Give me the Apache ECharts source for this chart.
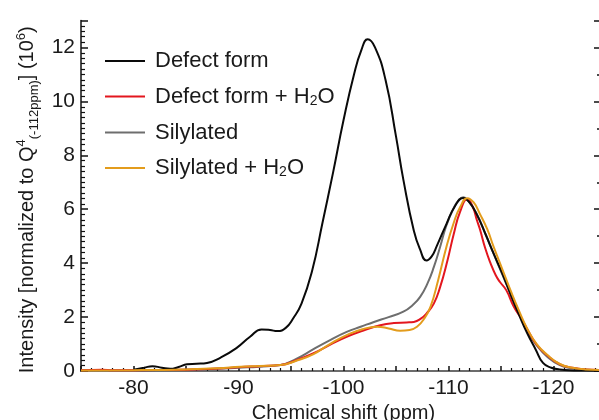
<!DOCTYPE html>
<html>
<head>
<meta charset="utf-8">
<script src="https://cdn.jsdelivr.net/npm/echarts@6/dist/echarts.min.js"></script>
<style>html,body{margin:0;padding:0;background:#fff;}#c{width:599px;height:420px;}</style>
</head>
<body>
<div id="c"></div>
<script>
// ---- data (ppm, intensity x10^6) ----
const defectX = [-80,-81,-81.8,-82.7,-83.5,-84.3,-85.1,-86,-87,-88.3,-89.8,-91.1,-92.2,-93,-93.7,-94.5,-95.2,-96,-97,-98,-99,-100,-101,-101.7,-102.3,-103,-104,-105,-105.7,-106.7,-107.3,-107.9,-108.4,-108.9,-109.8,-110.6,-111.4,-112,-112.7,-113.5,-114.3,-115.2,-115.9,-116.7,-117.5,-118.3,-119,-119.8,-120.6,-121.5,-123,-126];
const defectY = [0.05,0.12,0.18,0.12,0.08,0.15,0.25,0.27,0.3,0.5,0.85,1.27,1.54,1.52,1.48,1.6,1.95,2.5,3.7,5.5,7.35,9.3,11.0,11.9,12.3,12.0,10.8,8.7,7.1,5.2,4.5,4.1,4.25,4.65,5.45,6.1,6.42,6.25,5.8,5.1,4.35,3.55,2.85,2.1,1.4,0.8,0.3,0.12,0.06,0.03,0.02,0.0];

const defectH2OX = [-75,-77,-78,-80,-85,-88,-90,-92,-94,-95.5,-97.1,-98.7,-100.3,-101.9,-103.5,-104.8,-106,-106.7,-107.4,-107.9,-108.6,-109.2,-109.9,-110.5,-111.1,-111.8,-112.3,-112.7,-113,-113.5,-114,-114.5,-114.9,-115.5,-116.2,-117,-117.5,-118.4,-119.4,-120.6,-121.8,-123,-126];
const defectH2OY = [0.03,0.05,0.03,0.03,0.05,0.09,0.14,0.18,0.22,0.4,0.65,0.97,1.27,1.5,1.7,1.78,1.8,1.82,1.95,2.13,2.5,3.11,4.1,5.08,5.9,6.38,6.1,5.6,5.25,4.55,4.0,3.55,3.3,3.0,2.4,1.9,1.55,0.98,0.58,0.25,0.12,0.06,0.03];

const silylX = [-75,-80,-85,-88,-90,-92,-94,-95.5,-97.1,-98.5,-100.3,-101.7,-102.9,-104.3,-105.7,-106.6,-107.3,-108,-108.6,-109.2,-109.8,-110.5,-111,-111.4,-111.9,-112.7,-113.5,-114.3,-115.1,-115.9,-116.7,-117.5,-118.4,-119.4,-120.6,-121.8,-123,-126];
const silylY = [0.03,0.03,0.05,0.08,0.12,0.16,0.22,0.45,0.8,1.1,1.45,1.65,1.82,2.0,2.2,2.45,2.75,3.25,3.85,4.6,5.4,6.05,6.35,6.44,6.3,5.82,5.1,4.35,3.6,2.87,2.15,1.5,0.95,0.53,0.22,0.1,0.05,0.02];

const silylH2OX = [-75,-80,-85,-88,-90.2,-92,-94,-95.5,-97.1,-98.7,-100.3,-101.8,-103.2,-104.3,-105.4,-106.3,-107,-107.7,-108.3,-109,-109.8,-110.5,-111.1,-111.8,-112.4,-113,-113.7,-114.3,-115.1,-115.9,-116.7,-117.5,-118.4,-119.4,-120.6,-121.8,-123,-126];
const silylH2OY = [0.02,0.03,0.06,0.1,0.16,0.19,0.22,0.38,0.62,1.0,1.33,1.55,1.64,1.58,1.49,1.52,1.64,1.95,2.4,3.35,4.6,5.5,6.07,6.41,6.25,5.82,5.25,4.6,3.8,3.0,2.25,1.57,1.0,0.6,0.26,0.12,0.06,0.03];

const seriesNames = ['Defect form','Defect form + H2O','Silylated','Silylated + H2O'];
const xTickValues = [-80,-90,-100,-110,-120];
const yTickValues = [0,2,4,6,8,10,12];

function pairs(xs, ys){ return xs.map((x,i)=>[x, ys[i]]); }

const chart = echarts.init(document.getElementById('c'), null, {renderer:'canvas'});
const FONT = '"Liberation Sans", Arial, sans-serif';
const TXT = '#1a1a1a';
const lineSeries = (name, xs, ys, color, z) => ({
  name, type:'line', data: pairs(xs, ys), showSymbol:false, symbol:'none',
  smooth:0.5, z,
  lineStyle:{color, width:2}, itemStyle:{color}
});

chart.setOption({
  animation:false,
  backgroundColor:'#fff',
  textStyle:{fontFamily:FONT},
  grid:{left:81, top:20.5, right:-7, bottom:49, outerBoundsMode:'none', containLabel:false},
  legend:{
    orient:'vertical', left:105, top:50, padding:0, itemWidth:40, itemHeight:2, itemGap:13.5,
    icon:'rect',
    data: seriesNames,
    formatter: function(n){
      if (n.endsWith('H2O')) return '{a|' + n.slice(0,-2) + '}{s|2}{o|O}';
      return '{a|' + n + '}';
    },
    textStyle:{
      color:TXT, fontFamily:FONT, fontSize:22,
      rich:{
        a:{fontSize:22, lineHeight:23, color:TXT, fontFamily:FONT, padding:[0,0,0,5]},
        o:{fontSize:22, lineHeight:23, color:TXT, fontFamily:FONT},
        s:{fontSize:14, lineHeight:14, color:TXT, fontFamily:FONT, verticalAlign:'bottom'}
      }
    }
  },
  xAxis:[{
    type:'value', inverse:true, min:-125, max:-75, interval:5,
    name:'Chemical shift (ppm)', nameLocation:'middle', nameGap:29,
    nameTextStyle:{color:TXT, fontSize:20, fontFamily:FONT},
    axisLine:{show:true, lineStyle:{color:'#111', width:2}},
    axisTick:{show:true, inside:true, length:5, lineStyle:{color:'#111', width:1.5}},
    minorTick:{show:true, splitNumber:5, length:3, lineStyle:{color:'#111', width:1.2}},
    splitLine:{show:false},
    axisLabel:{color:TXT, fontSize:21, fontFamily:FONT, margin:7,
      formatter:function(v){ return xTickValues.indexOf(v) >= 0 ? String(v) : ''; }}
  },{
    type:'value', inverse:true, min:-125, max:-75, position:'top',
    axisLine:{show:true, lineStyle:{color:'#8a8a8a', width:1.5}},
    axisTick:{show:false}, axisLabel:{show:false}, splitLine:{show:false}
  }],
  yAxis:[{
    type:'value', min:0, max:13, interval:2,
    name:'{a|Intensity [normalized to Q}{p|4}{b|(-112ppm)}{a|] (10}{p|6}{a|)}',
    nameLocation:'middle', nameGap:37, nameRotate:90,
    nameTextStyle:{color:TXT, fontFamily:FONT, fontSize:20, padding:[0,8,0,0],
      rich:{
        a:{fontSize:20, lineHeight:26, color:TXT, fontFamily:FONT},
        p:{fontSize:13, lineHeight:13, color:TXT, fontFamily:FONT, verticalAlign:'top'},
        b:{fontSize:13, lineHeight:13, color:TXT, fontFamily:FONT, verticalAlign:'bottom'}
      }},
    axisLine:{show:true, lineStyle:{color:'#111', width:1.5}},
    axisTick:{show:true, inside:true, length:7, lineStyle:{color:'#111', width:1.5}},
    minorTick:{show:true, splitNumber:10, length:4, lineStyle:{color:'#111', width:1.2}},
    splitLine:{show:false},
    axisLabel:{color:TXT, fontSize:21, fontFamily:FONT, margin:6, showMaxLabel:false,
      formatter:function(v){ return yTickValues.indexOf(v) >= 0 ? String(v) : ''; }}
  },{
    type:'value', min:0, max:13, interval:2, position:'right', offset:-7,
    axisLine:{show:false},
    axisTick:{show:true, inside:true, length:5, lineStyle:{color:'#111', width:1.5}},
    minorTick:{show:true, splitNumber:2, length:2, lineStyle:{color:'#111', width:1.5}},
    axisLabel:{show:false}, splitLine:{show:false}
  }],
  series:[
    lineSeries(seriesNames[2], silylX, silylY, '#6e6e6e', 2),
    lineSeries(seriesNames[1], defectH2OX, defectH2OY, '#e3161e', 3),
    lineSeries(seriesNames[0], defectX, defectY, '#0a0a0a', 4),
    lineSeries(seriesNames[3], silylH2OX, silylH2OY, '#e39c1c', 5)
  ]
});
</script>
</body>
</html>
